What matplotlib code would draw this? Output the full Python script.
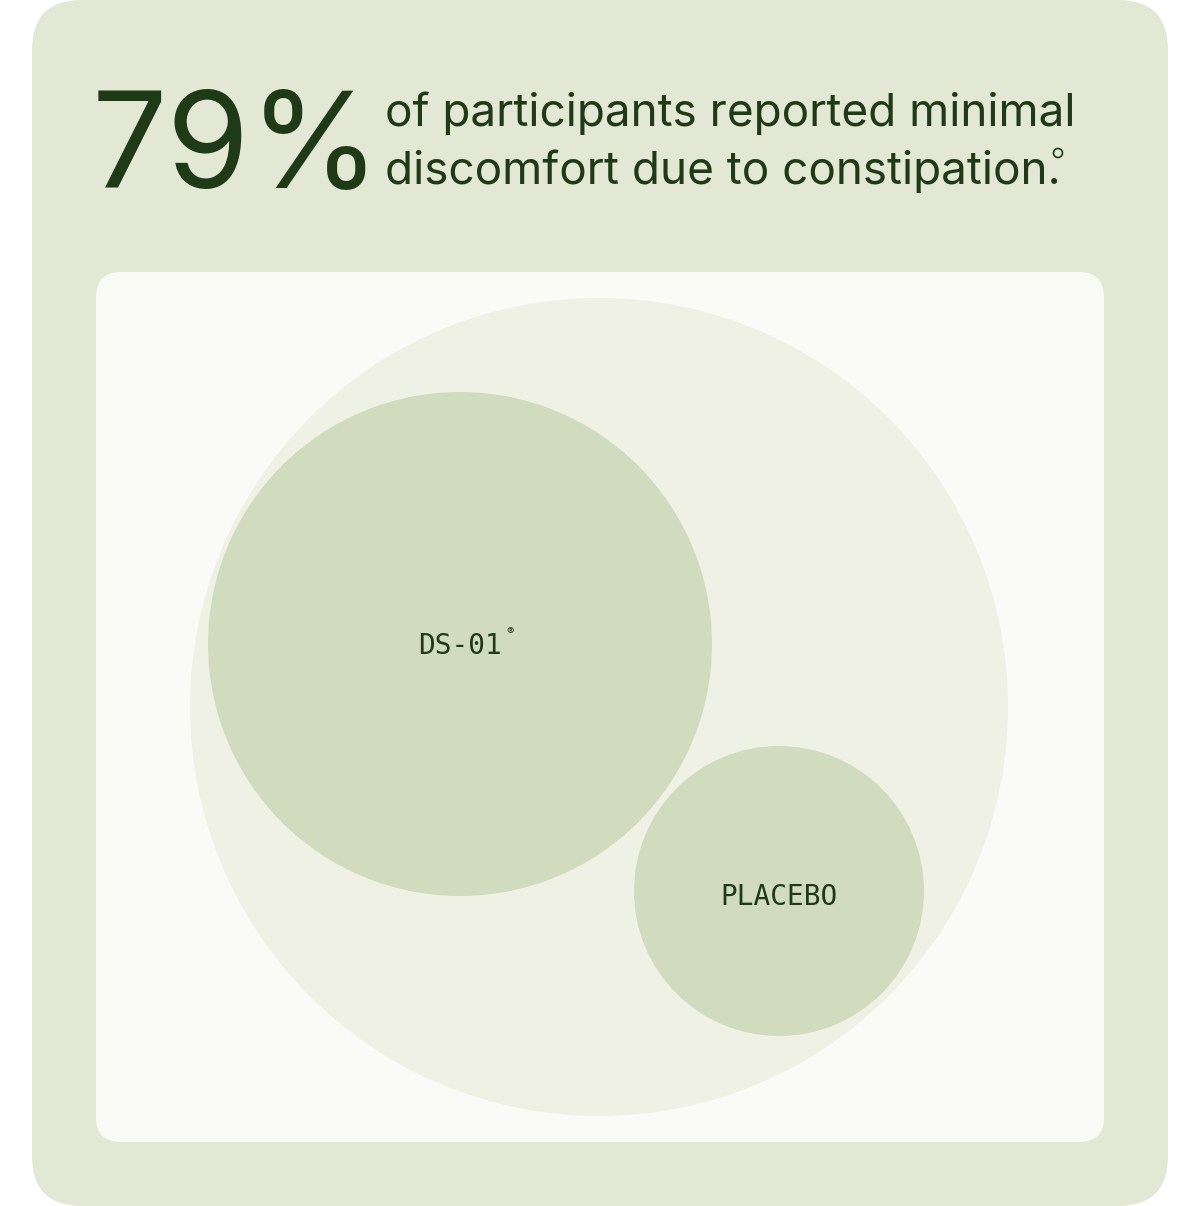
import matplotlib.pyplot as plt
from matplotlib.patches import Circle, FancyBboxPatch

# data
headline = "79%"
subtitle = ["of participants reported minimal", "discomfort due to constipation."]
groups = ["DS-01", "PLACEBO"]
group_radius = [252, 145]          # bubble radius in px
group_center = [(460, 644), (779, 891)]
total_radius = 409
total_center = (599, 707)

dark = "#1f3a16"
plt.rcParams['font.family'] = ['Inter', 'DejaVu Sans']

fig = plt.figure(figsize=(12, 12.06), dpi=100)
ax = fig.add_axes([0, 0, 1, 1])
ax.set_xlim(0, 1200)
ax.set_ylim(1206, 0)
ax.axis('off')

# outer card and inner panel
ax.add_patch(FancyBboxPatch((32 + 50, 0 + 50), 1136 - 100, 1206 - 100,
                            boxstyle="round,pad=50", fc="#e3e8d4", ec="none"))
ax.add_patch(FancyBboxPatch((96 + 25, 272 + 25), 1008 - 50, 870 - 50,
                            boxstyle="round,pad=25", fc="#fafaf6", ec="none"))

ax.add_patch(Circle(total_center, total_radius, fc="#eff1e5", ec="none"))
for name, r, c in zip(groups, group_radius, group_center):
    ax.add_patch(Circle(c, r, fc="#d1dbbd", ec="none"))

ax.text(group_center[0][0], group_center[0][1] + 2, "DS-01", family="DejaVu Sans Mono",
        fontsize=20, color=dark, ha="center", va="center")
ax.text(group_center[0][0] + 50, group_center[0][1] - 12, "®", fontsize=8,
        color=dark, ha="center", va="center")
ax.text(group_center[1][0], group_center[1][1] + 6, "PLACEBO", family="DejaVu Sans Mono",
        fontsize=20, color=dark, ha="center", va="center")

ax.text(92, 188, headline, fontsize=96, color=dark, ha="left", va="baseline")
ax.text(385, 126, subtitle[0], fontsize=33, color=dark, ha="left", va="baseline")
ax.text(385, 184, subtitle[1], fontsize=33, color=dark, ha="left", va="baseline")
ax.add_patch(Circle((1058, 153), 4.5, fc="none", ec=dark, lw=1.2))

fig.savefig("out.png", dpi=100, facecolor="white")
